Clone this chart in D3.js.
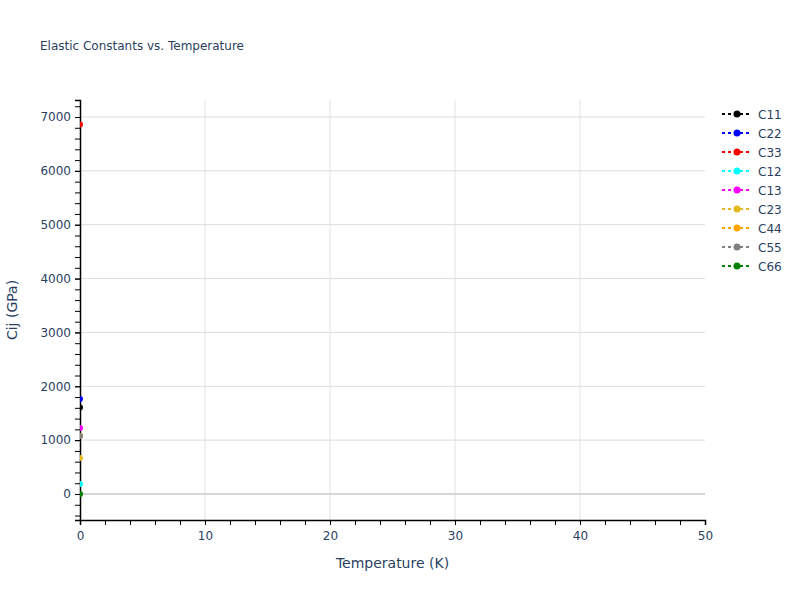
<!DOCTYPE html>
<html>
<head>
<meta charset="utf-8">
<script src="https://cdn.jsdelivr.net/npm/d3@7"></script>
<style>
  body { margin: 0; background: #fff; }
  text { font-family: "DejaVu Sans", Verdana, sans-serif; fill: #2a3f5f; }
</style>
</head>
<body>
<svg id="chart" width="800" height="600"></svg>
<script>
// data
var temperature = [0];
var names = ["C11", "C22", "C33", "C12", "C13", "C23", "C44", "C55", "C66"];
var colors = ["black", "blue", "red", "cyan", "magenta", "#e6b820", "orange", "gray", "green"];
var values = [[1605], [1765], [6860], [185], [1225], [668], [1080], [1077], [2]];
var xTicks = [0, 10, 20, 30, 40, 50];
var yTicks = [0, 1000, 2000, 3000, 4000, 5000, 6000, 7000];

var svg = d3.select("#chart");
var plotL = 80, plotR = 705, plotT = 100, plotB = 520;

var x = d3.scaleLinear().domain([0, 50]).range([plotL, plotR]);
var y = d3.scaleLinear().domain([-483, 7316]).range([plotB, plotT]);

// grid
svg.append("g").selectAll("line")
    .data(xTicks.filter(function(d) { return d > 0 && d < 50; }))
    .enter().append("line")
    .attr("x1", function(d) { return x(d); }).attr("x2", function(d) { return x(d); })
    .attr("y1", plotT).attr("y2", plotB)
    .style("stroke", "#e2e2e2").style("stroke-width", 1);

svg.append("g").selectAll("line")
    .data(yTicks.filter(function(d) { return d != 0; }))
    .enter().append("line")
    .attr("x1", plotL).attr("x2", plotR)
    .attr("y1", function(d) { return y(d); }).attr("y2", function(d) { return y(d); })
    .style("stroke", "#dcdcdc").style("stroke-width", 1);

// zero line
svg.append("line")
    .attr("x1", plotL).attr("x2", plotR)
    .attr("y1", y(0)).attr("y2", y(0))
    .style("stroke", "#d6d6d6").style("stroke-width", 2);

// axes
var xAxis = d3.axisBottom(x).tickValues(xTicks).tickSize(5).tickPadding(6).tickFormat(d3.format("d"));
var yAxis = d3.axisLeft(y).tickValues(yTicks).tickSize(5).tickPadding(4).tickFormat(d3.format("d"));

svg.append("g").attr("transform", "translate(0," + plotB + ")").call(xAxis);
svg.append("g").attr("transform", "translate(" + plotL + ",0)").call(yAxis);

// minor ticks
svg.append("g").attr("transform", "translate(0," + plotB + ")")
    .call(d3.axisBottom(x).tickValues(d3.range(0, 51, 2)).tickSize(5).tickFormat(""))
    .select(".domain").remove();
svg.append("g").attr("transform", "translate(" + plotL + ",0)")
    .call(d3.axisLeft(y).tickValues(d3.range(-400, 7301, 200)).tickSize(5).tickFormat(""))
    .select(".domain").remove();

svg.selectAll(".domain").style("stroke", "#000").style("stroke-width", 1.5);
svg.selectAll(".tick line").style("stroke", "#000");
svg.selectAll(".tick text").style("font-size", "12px").style("fill", "#2a3f5f")
    .style("font-family", "'DejaVu Sans', Verdana, sans-serif");

// axis titles
svg.append("text").attr("x", (plotL + plotR) / 2).attr("y", 568)
    .attr("text-anchor", "middle").style("font-size", "14px").text("Temperature (K)");
svg.append("text").attr("transform", "translate(17," + (plotT + plotB) / 2 + ") rotate(-90)")
    .attr("text-anchor", "middle").style("font-size", "14px").text("Cij (GPa)");

// title
svg.append("text").attr("x", 40).attr("y", 50).style("font-size", "12px")
    .text("Elastic Constants vs. Temperature");

// series
svg.append("clipPath").attr("id", "clip").append("rect")
    .attr("x", plotL).attr("y", plotT).attr("width", plotR - plotL).attr("height", plotB - plotT);
var plot = svg.append("g").attr("clip-path", "url(#clip)");

names.forEach(function(name, i) {
  var pts = temperature.map(function(t, j) { return [t, values[i][j]]; });
  var line = d3.line().x(function(d) { return x(d[0]); }).y(function(d) { return y(d[1]); });
  plot.append("path").datum(pts).attr("d", line)
      .style("fill", "none").style("stroke", colors[i]).style("stroke-width", 2)
      .style("stroke-dasharray", "3,3");
  plot.selectAll(null).data(pts).enter().append("circle")
      .attr("cx", function(d) { return x(d[0]); })
      .attr("cy", function(d) { return y(d[1]); })
      .attr("r", 3).style("fill", colors[i]);
});

// legend
var legend = svg.append("g").attr("transform", "translate(722,114)");
var item = legend.selectAll("g").data(names).enter().append("g")
    .attr("transform", function(d, i) { return "translate(0," + i * 19 + ")"; });
item.append("line").attr("x1", 0).attr("x2", 30).attr("y1", 0).attr("y2", 0)
    .style("stroke", function(d, i) { return colors[i]; })
    .style("stroke-width", 2).style("stroke-dasharray", "3,3");
item.append("circle").attr("cx", 15).attr("cy", 0).attr("r", 3.5)
    .style("fill", function(d, i) { return colors[i]; });
item.append("text").attr("x", 36).attr("y", 4.5).style("font-size", "12px")
    .text(function(d) { return d; });
</script>
</body>
</html>
